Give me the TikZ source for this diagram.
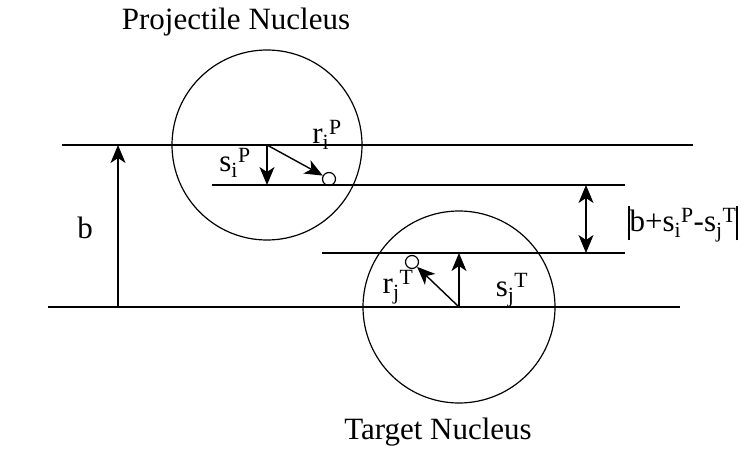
\documentclass[tikz,border=0pt]{standalone}
\usepackage{fontspec}
\setmainfont{Liberation Serif}
\usetikzlibrary{arrows.meta}
\newcommand{\absbar}{\rule[-0.27em]{1.4pt}{1.12em}}
\begin{document}
\begin{tikzpicture}[x=1pt,y=-1pt,
  hline/.style={line width=1.4pt},
  ring/.style={line width=1.2pt},
  vec/.style={line width=1.4pt,-{Stealth[length=18pt,width=15pt,inset=5pt]}},
  dvec/.style={line width=1.2pt,{Stealth[length=18pt,width=15pt,inset=5pt]}-{Stealth[length=18pt,width=15pt,inset=5pt]}},
  lbl/.style={font=\fontsize{31}{36}\selectfont, inner sep=0pt},
  dot/.style={circle,draw,line width=1.2pt,minimum size=13pt,inner sep=0pt}]
\useasboundingbox (0,0) rectangle (747,465);
% reference lines
\coordinate (tL) at (62,145);  \coordinate (tR) at (693,145);
\coordinate (bL) at (48,307);  \coordinate (bR) at (680,307);
\coordinate (mL) at (212,185); \coordinate (mR) at (625,185);
\coordinate (nL) at (322,253); \coordinate (nR) at (625,253);
\draw[hline] (tL) -- (tR);
\draw[hline] (bL) -- (bR);
\draw[hline] (mL) -- (mR);
\draw[hline] (nL) -- (nR);
% nuclei
\coordinate (P) at (267,145);
\coordinate (T) at (459,307);
\draw[ring] (P) circle[radius=95];
\draw[ring] (T) circle[radius=96];
% titles
\node[lbl] (tp) at (236,22) {Projectile Nucleus};
\node[lbl] (tt) at (438,432) {Target Nucleus};
% b
\coordinate (b0) at (118,307); \coordinate (b1) at (118,145);
\draw[vec] (b0) -- (b1);
\node[lbl] (blab) at (85,228) {b};
% projectile nucleon
\coordinate (siP) at (267,185);
\draw[vec] (P) -- (siP);
\node[lbl] (slabP) at (235,163) {s\textsubscript{i}\textsuperscript{P}};
\node[dot] (nP) at (329,179) {};
\draw[vec] (P) -- (nP);
\node[lbl] (rlabP) at (327,135) {r\textsubscript{i}\textsuperscript{P}};
% target nucleon
\coordinate (sjT) at (459,253);
\draw[vec] (T) -- (sjT);
\node[lbl] (slabT) at (512,290) {s\textsubscript{j}\textsuperscript{T}};
\node[dot] (nT) at (412,262) {};
\draw[vec] (T) -- (nT);
\node[lbl] (rlabT) at (398,287) {r\textsubscript{j}\textsuperscript{T}};
% distance
\coordinate (d0) at (586,185); \coordinate (d1) at (586,253);
\draw[dvec] (d0) -- (d1);
\node[lbl] (dlab) at (683,224) {\absbar b+s\textsubscript{i}\textsuperscript{P}-s\textsubscript{j}\textsuperscript{T}\absbar};
\end{tikzpicture}
\end{document}
